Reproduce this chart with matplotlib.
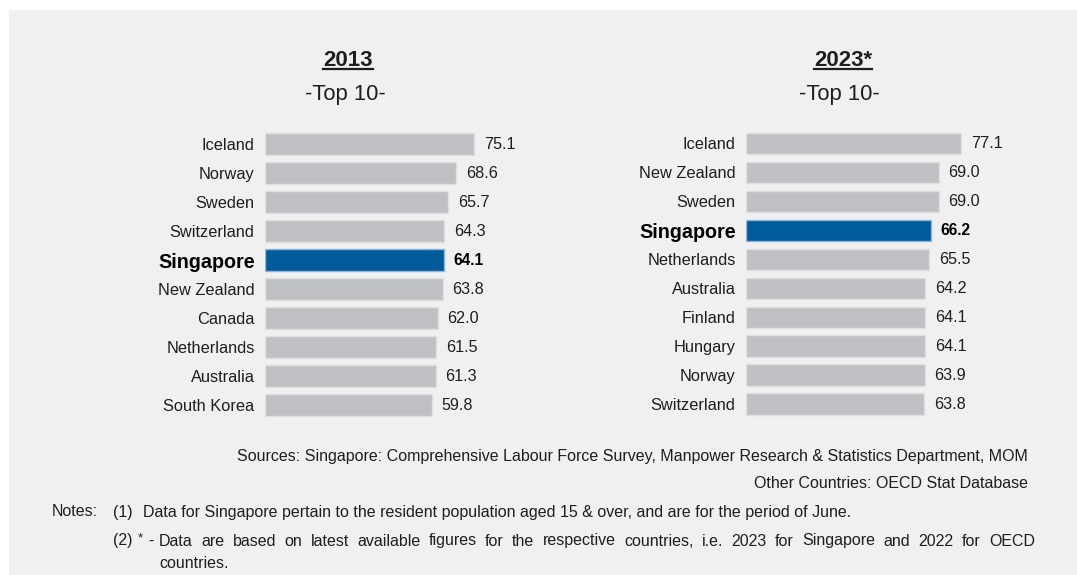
import matplotlib
matplotlib.use("Agg")
import matplotlib.pyplot as plt
from matplotlib.patches import Rectangle
from matplotlib.lines import Line2D

plt.rcParams['font.family'] = ['Liberation Sans', 'DejaVu Sans']

# ---- data ----
countries_2013 = ["Iceland", "Norway", "Sweden", "Switzerland", "Singapore",
                  "New Zealand", "Canada", "Netherlands", "Australia", "South Korea"]
values_2013 = [75.1, 68.6, 65.7, 64.3, 64.1, 63.8, 62.0, 61.5, 61.3, 59.8]

countries_2023 = ["Iceland", "New Zealand", "Sweden", "Singapore", "Netherlands",
                  "Australia", "Finland", "Hungary", "Norway", "Switzerland"]
values_2023 = [77.1, 69.0, 69.0, 66.2, 65.5, 64.2, 64.1, 64.1, 63.9, 63.8]

titles = ["2013", "2023*"]
subtitle = "-Top 10-"
highlight = "Singapore"

W, H = 1077, 575
fig = plt.figure(figsize=(W / 100, H / 100), dpi=100, facecolor="white")

def fx(x):
    return x / W

def fy(y):
    return 1 - y / H

# panel background
fig.patches.append(Rectangle((fx(9), 0), 1 - fx(9), fy(10), transform=fig.transFigure,
                             facecolor="#f0f0f0", edgecolor="none", zorder=-5))

GRAY = "#bfc0c4"
GRAY_EDGE = "#dedfe1"
BLUE = "#005b9b"
BLUE_EDGE = "#8fb6da"
TXT = "#1e1e1e"


def panel(left_px, px_per_unit, top_px, bottom_px, names, vals):
    xmax = 80
    ax = fig.add_axes([fx(left_px), fy(bottom_px), (px_per_unit * xmax) / W,
                       (bottom_px - top_px) / H])
    ax.set_zorder(2)
    ax.set_xlim(0, xmax)
    ax.set_ylim(len(names) - 0.5, -0.5)
    ax.patch.set_alpha(0)
    for s in ax.spines.values():
        s.set_visible(False)
    ax.set_xticks([])
    colors = [BLUE if n == highlight else GRAY for n in names]
    edges = [BLUE_EDGE if n == highlight else GRAY_EDGE for n in names]
    ax.barh(range(len(names)), vals, height=0.75, color=colors, edgecolor=edges,
            linewidth=1.0)
    ax.set_yticks(range(len(names)))
    ax.set_yticklabels(names)
    ax.tick_params(axis="y", length=0, pad=7.5, labelsize=11.8, labelcolor=TXT)
    for lab in ax.get_yticklabels():
        if lab.get_text() == highlight:
            lab.set_fontweight("bold")
            lab.set_fontsize(14.2)
            lab.set_color("black")
    for i, (n, v) in enumerate(zip(names, vals)):
        bold = n == highlight
        ax.annotate(f"{v:.1f}", xy=(v, i), xytext=(7, 0), textcoords="offset points",
                    va="center", ha="left", fontsize=11.2 if bold else 11.6,
                    fontweight="bold" if bold else "normal",
                    color="black" if bold else TXT)
    return ax


panel(265, 2.785, 129.7, 419.5, countries_2013, values_2013)
panel(746, 2.795, 129.0, 418.8, countries_2023, values_2023)

# headings
fig.canvas.draw()
renderer = fig.canvas.get_renderer()
for cx_year, cx_sub, title in [(348, 345, titles[0]), (843, 839, titles[1])]:
    t = fig.text(fx(cx_year), fy(65.5), title, ha="center", va="baseline",
                 fontsize=16, fontweight="bold", color=TXT)
    bb = t.get_window_extent(renderer=renderer)
    fig.lines.append(Line2D([bb.x0 / W, bb.x1 / W], [fy(68.5), fy(68.5)],
                            transform=fig.transFigure, color=TXT, linewidth=1.6))
    fig.text(fx(cx_sub), fy(100), subtitle, ha="center", va="baseline",
             fontsize=15.8, color=TXT)

# sources and notes
FS = 11.5
fig.text(fx(1028), fy(456), "Sources: Singapore: Comprehensive Labour Force Survey, "
         "Manpower Research & Statistics Department, MOM",
         ha="right", va="center", fontsize=FS, color=TXT)
fig.text(fx(1028), fy(483), "Other Countries: OECD Stat Database",
         ha="right", va="center", fontsize=FS, color=TXT)
fig.text(fx(52), fy(512), "Notes:", ha="left", va="center", fontsize=FS, color=TXT)
fig.text(fx(113), fy(512), "(1)", ha="left", va="center", fontsize=FS, color=TXT)
fig.text(fx(143), fy(512), "Data for Singapore pertain to the resident population aged 15 "
         "& over, and are for the period of June.", ha="left", va="center",
         fontsize=FS, color=TXT)
fig.text(fx(113), fy(541), "(2)", ha="left", va="center", fontsize=FS, color=TXT)
fig.text(fx(138), fy(538), "*", ha="left", va="center", fontsize=FS - 2, color=TXT)
fig.text(fx(148), fy(541), "-", ha="left", va="center", fontsize=FS, color=TXT)

# justified note line
words = ("Data are based on latest available figures for the respective countries, "
         "i.e. 2023 for Singapore and 2022 for OECD").split()
x_start, x_end = 159, 1035
widths = []
for w in words:
    t = fig.text(0, 0, w, fontsize=FS)
    widths.append(t.get_window_extent(renderer=renderer).width)
    t.remove()
gap = (x_end - x_start - sum(widths)) / (len(words) - 1)
x = x_start
for w, wd in zip(words, widths):
    fig.text(fx(x), fy(541), w, ha="left", va="center", fontsize=FS, color=TXT)
    x += wd + gap
fig.text(fx(159), fy(563), "countries.", ha="left", va="center", fontsize=FS, color=TXT)

fig.savefig("out.png", dpi=100, facecolor="white")
